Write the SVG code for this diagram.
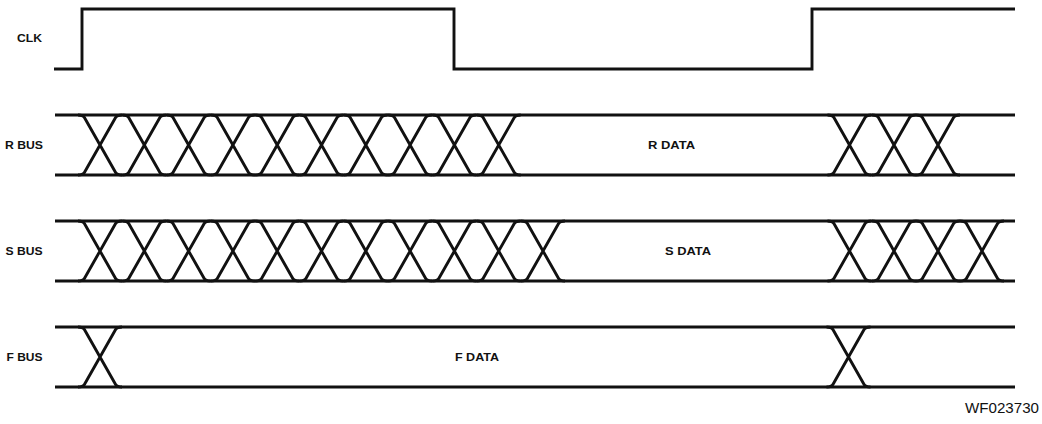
<svg xmlns="http://www.w3.org/2000/svg" xmlns:xlink="http://www.w3.org/1999/xlink" width="1042" height="424" viewBox="0 0 1042 424">
<style>
.w{fill:none;stroke:#111;stroke-width:2.9;stroke-linejoin:miter}
.lbl{font-family:"Liberation Sans",Arial,sans-serif;font-weight:bold;font-size:10.5px;fill:#111}
.ref{font-family:"Liberation Sans",Arial,sans-serif;font-size:14.5px;fill:#111}
</style>
<defs>
<path id="xo" class="w" d="M-22,60 Q-17,60 -15.6,57.5 L15.6,2.5 Q17,0 22,0 M-22,0 Q-17,0 -15.6,2.5 L15.6,57.5 Q17,60 22,60"/>
</defs>
<rect width="1042" height="424" fill="#fff"/>
<g id="clk">
<text class="lbl" x="17" y="42" textLength="25" lengthAdjust="spacingAndGlyphs">CLK</text>
<path class="w" d="M54,69 H82 V9 H454 V69 H812 V9 H1015"/>
</g>
<g id="rbus">
<text class="lbl" x="5" y="149" textLength="38" lengthAdjust="spacingAndGlyphs">R BUS</text>
<path class="w" d="M55,115 H1015 M55,175 H1015"/>
<use xlink:href="#xo" x="100" y="115"/>
<use xlink:href="#xo" x="144.3" y="115"/>
<use xlink:href="#xo" x="188.6" y="115"/>
<use xlink:href="#xo" x="232.9" y="115"/>
<use xlink:href="#xo" x="277.2" y="115"/>
<use xlink:href="#xo" x="321.5" y="115"/>
<use xlink:href="#xo" x="365.8" y="115"/>
<use xlink:href="#xo" x="410.1" y="115"/>
<use xlink:href="#xo" x="454.4" y="115"/>
<use xlink:href="#xo" x="498.7" y="115"/>
<use xlink:href="#xo" x="849.5" y="115"/>
<use xlink:href="#xo" x="894" y="115"/>
<use xlink:href="#xo" x="938" y="115"/>
<text class="lbl" x="648" y="149" textLength="47" lengthAdjust="spacingAndGlyphs">R DATA</text>
</g>
<g id="sbus">
<text class="lbl" x="5.5" y="255" textLength="37" lengthAdjust="spacingAndGlyphs">S BUS</text>
<path class="w" d="M55,221 H1015 M55,281 H1015"/>
<use xlink:href="#xo" x="100" y="221"/>
<use xlink:href="#xo" x="144.3" y="221"/>
<use xlink:href="#xo" x="188.6" y="221"/>
<use xlink:href="#xo" x="232.9" y="221"/>
<use xlink:href="#xo" x="277.2" y="221"/>
<use xlink:href="#xo" x="321.5" y="221"/>
<use xlink:href="#xo" x="365.8" y="221"/>
<use xlink:href="#xo" x="410.1" y="221"/>
<use xlink:href="#xo" x="454.4" y="221"/>
<use xlink:href="#xo" x="498.7" y="221"/>
<use xlink:href="#xo" x="543" y="221"/>
<use xlink:href="#xo" x="849.5" y="221"/>
<use xlink:href="#xo" x="894" y="221"/>
<use xlink:href="#xo" x="938" y="221"/>
<use xlink:href="#xo" x="982" y="221"/>
<text class="lbl" x="665" y="255" textLength="46" lengthAdjust="spacingAndGlyphs">S DATA</text>
</g>
<g id="fbus">
<text class="lbl" x="6.5" y="361" textLength="36" lengthAdjust="spacingAndGlyphs">F BUS</text>
<path class="w" d="M55,327 H1015 M55,387 H1015"/>
<use xlink:href="#xo" x="100" y="327"/>
<use xlink:href="#xo" x="848.5" y="327"/>
<text class="lbl" x="455" y="361" textLength="44" lengthAdjust="spacingAndGlyphs">F DATA</text>
</g>
<g id="connectors"></g>
<text id="figref" class="ref" x="965" y="413" textLength="74" lengthAdjust="spacingAndGlyphs">WF023730</text>
</svg>
